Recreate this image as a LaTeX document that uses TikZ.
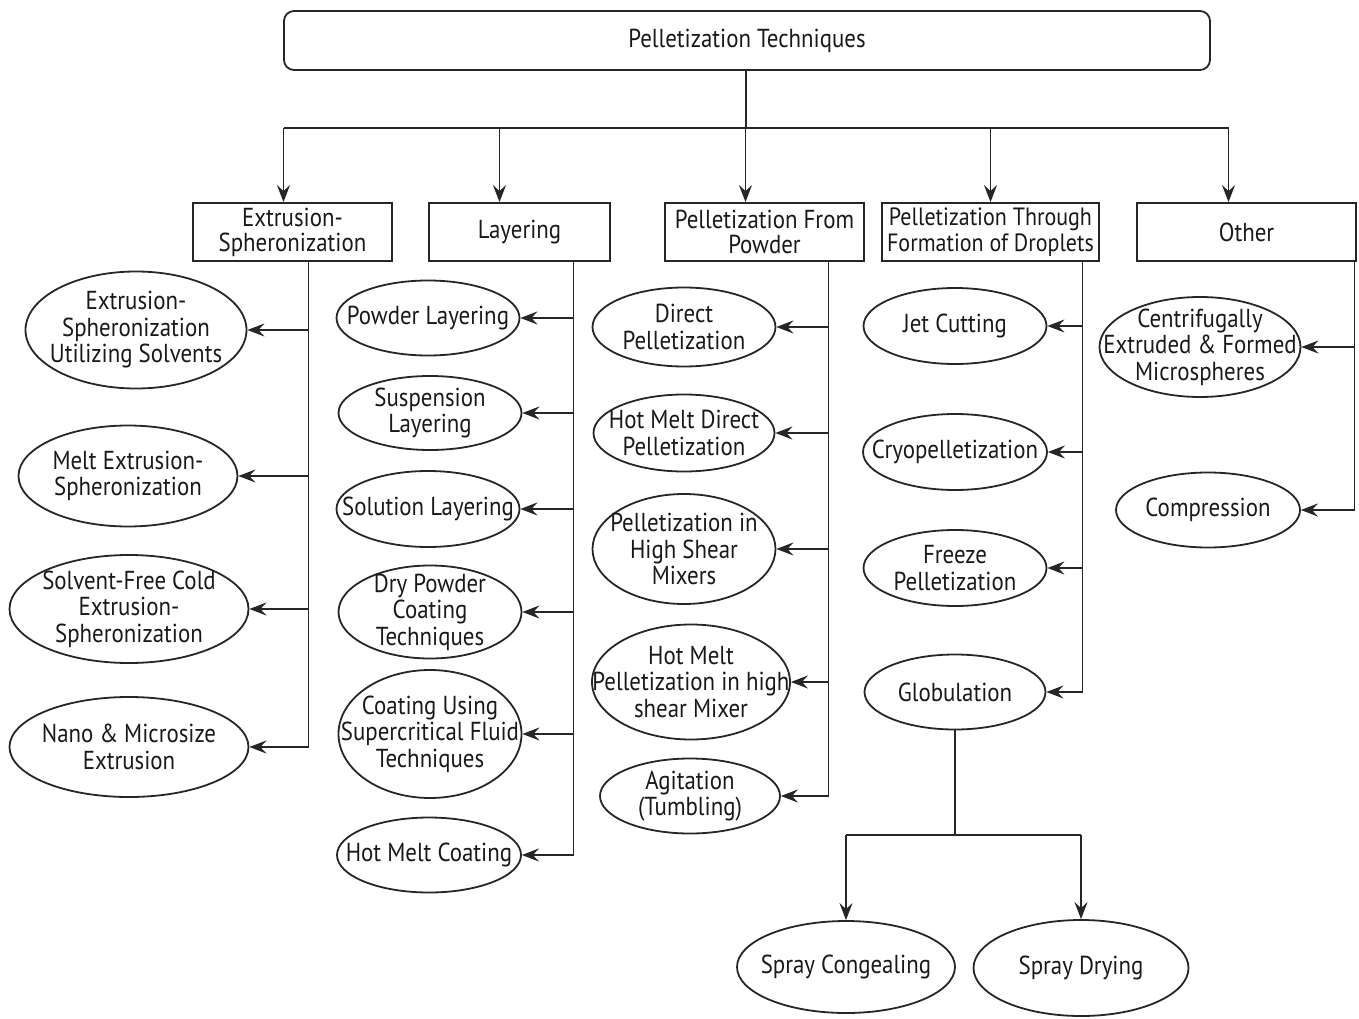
\documentclass[tikz,border=0pt]{standalone}
\usepackage{fontspec}
\setmainfont{PT Sans}[FakeStretch=0.88]
\usetikzlibrary{arrows.meta,shapes.geometric}
\tikzset{
    techroot/.style={rectangle,draw,rounded corners=10pt,minimum width=926pt,minimum height=59pt},
    techgroup/.style={rectangle,draw,align=center,minimum height=58pt,inner sep=0pt,font=\fontsize{26}{25}\selectfont},
    techitem/.style={ellipse,draw,align=center,inner sep=-100pt},
    itemsize/.style 2 args={minimum width=#1pt,minimum height=#2pt},
    techline/.style={line width=1.8pt},
    techarrow/.style={-{Stealth[length=17pt,width=13pt,inset=6pt]},line width=1.8pt}
}

\begin{document}
\begin{tikzpicture}[x=1pt,y=-1pt,line width=1.8pt,draw=black!85,text=black!90,font=\fontsize{26}{26.5}\selectfont]
    \useasboundingbox (0,0) rectangle (1359,1019);
    % root and groups
    \node[techroot] (root) at (747,40.5) {Pelletization Techniques};
    \node[techgroup,minimum width=199pt] (es) at (292.5,232) {Extrusion-\\Spheronization};
    \node[techgroup,minimum width=181pt] (lay) at (519.5,232) {Layering};
    \node[techgroup,minimum width=199pt] (pfp) at (764.5,232) {Pelletization From\\Powder};
    \node[techgroup,minimum width=217pt,font=\fontsize{25}{26}\selectfont] (pfd) at (990.5,232) {Pelletization Through\\Formation of Droplets};
    \node[techgroup,minimum width=219pt] (oth) at (1246.5,232) {Other};
    % extrusion-spheronization
    \node[techitem,itemsize={221}{117}] (es1) at (136,330) {Extrusion-\\Spheronization\\Utilizing Solvents};
    \node[techitem,itemsize={219}{101}] (es2) at (128,476) {Melt Extrusion-\\Spheronization};
    \node[techitem,itemsize={239}{108}] (es3) at (129,609) {Solvent-Free Cold\\Extrusion-\\Spheronization};
    \node[techitem,itemsize={239}{100}] (es4) at (129,747) {Nano \& Microsize\\Extrusion};
    % layering
    \node[techitem,itemsize={183}{75}] (lay1) at (428,318) {Powder Layering};
    \node[techitem,itemsize={183}{74}] (lay2) at (430,413) {Suspension\\Layering};
    \node[techitem,itemsize={183}{76}] (lay3) at (428,509) {Solution Layering};
    \node[techitem,itemsize={183}{93}] (lay4) at (430,612) {Dry Powder\\Coating\\Techniques};
    \node[techitem,itemsize={183}{128}] (lay5) at (430,734) {Coating Using\\Supercritical Fluid\\Techniques};
    \node[techitem,itemsize={184}{75}] (lay6) at (429,855) {Hot Melt Coating};
    % from powder
    \node[techitem,itemsize={183}{79}] (pfp1) at (684,327) {Direct\\Pelletization};
    \node[techitem,itemsize={181}{77}] (pfp2) at (684,433) {Hot Melt Direct\\Pelletization};
    \node[techitem,itemsize={183}{110}] (pfp3) at (684,549) {Pelletization in\\High Shear\\Mixers};
    \node[techitem,itemsize={198}{115}] (pfp4) at (691,682) {Hot Melt\\Pelletization in high\\shear Mixer};
    \node[techitem,itemsize={180}{75}] (pfp5) at (690,796) {Agitation\\(Tumbling)};
    % droplets
    \node[techitem,itemsize={183}{76}] (pfd1) at (955,326) {Jet Cutting};
    \node[techitem,itemsize={184}{76}] (pfd2) at (955,452) {Cryopelletization};
    \node[techitem,itemsize={183}{76}] (pfd3) at (955,568) {Freeze\\Pelletization};
    \node[techitem,itemsize={181}{75}] (glob) at (955,692) {Globulation};
    \node[techitem,itemsize={218}{92}] (glob1) at (846,967) {Spray Congealing};
    \node[techitem,itemsize={215}{96}] (glob2) at (1081,968) {Spray Drying};
    % other
    \node[techitem,itemsize={201}{100}] (oth1) at (1200,347) {Centrifugally\\Extruded \& Formed\\Microspheres};
    \node[techitem,itemsize={184}{75}] (oth2) at (1208,510) {Compression};

    % root to groups
    \coordinate (bus) at (746,128);
    \draw[techline] (root.south -| bus) -- (bus);
    \draw[techline] ([xshift=-9pt]es.north |- bus) -- ([xshift=-18pt]oth.north |- bus);
    \draw[techarrow] ([xshift=-9pt]es.north |- bus) -- ([xshift=-9pt]es.north);
    \draw[techarrow] ([xshift=-20pt]lay.north |- bus) -- ([xshift=-20pt]lay.north);
    \draw[techarrow] ([xshift=-19pt]pfp.north |- bus) -- ([xshift=-19pt]pfp.north);
    \draw[techarrow] (pfd.north |- bus) -- (pfd.north);
    \draw[techarrow] ([xshift=-18pt]oth.north |- bus) -- ([xshift=-18pt]oth.north);

    % trunks
    \coordinate (esbus) at ([xshift=16pt]es.south);
    \coordinate (laybus) at ([xshift=54pt]lay.south);
    \coordinate (pfpbus) at ([xshift=64pt]pfp.south);
    \coordinate (pfdbus) at ([xshift=92pt]pfd.south);
    \coordinate (othbus) at ([xshift=108pt]oth.south);
    \draw[techline] (esbus) -- (esbus |- es4.east);
    \draw[techline] (laybus) -- (laybus |- lay6.east);
    \draw[techline] (pfpbus) -- (pfpbus |- pfp5.east);
    \draw[techline] (pfdbus) -- (pfdbus |- glob.east);
    \draw[techline] (othbus) -- (othbus |- oth2.east);
    \foreach \n in {es1,es2,es3,es4}
        \draw[techarrow] (esbus |- \n.east) -- (\n.east);
    \foreach \n in {lay1,lay2,lay3,lay4,lay5,lay6}
        \draw[techarrow] (laybus |- \n.east) -- (\n.east);
    \foreach \n in {pfp1,pfp2,pfp3,pfp4,pfp5}
        \draw[techarrow] (pfpbus |- \n.east) -- (\n.east);
    \foreach \n in {pfd1,pfd2,pfd3,glob}
        \draw[techarrow] (pfdbus |- \n.east) -- (\n.east);
    \foreach \n in {oth1,oth2}
        \draw[techarrow] (othbus |- \n.east) -- (\n.east);

    % globulation
    \coordinate (globbus) at (955,835);
    \draw[techline] (glob.south) -- (globbus);
    \draw[techline] (glob1.north |- globbus) -- (glob2.north |- globbus);
    \draw[techarrow] (glob1.north |- globbus) -- (glob1.north);
    \draw[techarrow] (glob2.north |- globbus) -- (glob2.north);
\end{tikzpicture}
\end{document}
